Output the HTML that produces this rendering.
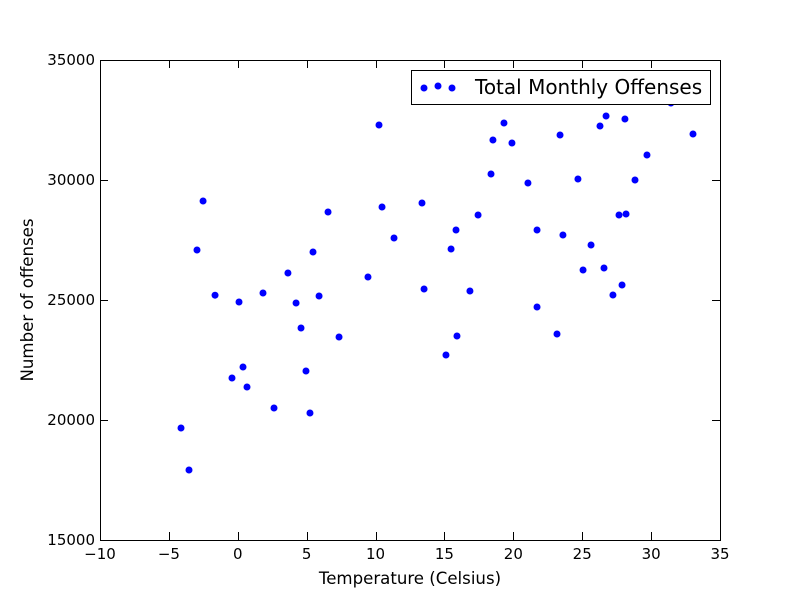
<!DOCTYPE html>
<html><head><meta charset="utf-8"><style>
body{margin:0;background:#fff}
svg text{font-family:"DejaVu Sans","Liberation Sans",sans-serif;fill:#000}
</style></head><body>
<svg id="chart" width="800" height="600" xmlns="http://www.w3.org/2000/svg">
<rect width="800" height="600" fill="#fff"/>
<g id="points"></g>
<g id="axes"></g>
<g>
<rect x="411.5" y="70.5" width="299" height="34" fill="#fff" stroke="#000" stroke-width="1"/>
<circle cx="424" cy="88" r="3.5" fill="#0000ff"/>
<circle cx="438" cy="86" r="3.5" fill="#0000ff"/>
<circle cx="452" cy="88" r="3.5" fill="#0000ff"/>
<text x="475" y="94" font-size="20">Total Monthly Offenses</text>
</g>
<text x="410" y="584" font-size="16.6" text-anchor="middle">Temperature (Celsius)</text>
<text transform="translate(33,300) rotate(-90)" font-size="16.6" text-anchor="middle">Number of offenses</text>
</svg>
<script>
const temps=[-4.12,-3.54,-2.96,-2.52,-1.65,-0.42,0.09,0.38,0.67,1.83,2.63,3.64,4.23,4.59,4.95,5.24,5.46,5.9,6.55,7.35,9.45,10.25,10.47,11.34,13.37,13.52,15.11,15.48,15.84,15.91,16.85,17.44,18.38,18.52,19.32,19.9,21.06,21.72,21.72,23.17,23.39,23.6,24.69,25.06,25.64,26.29,26.58,26.73,27.23,27.67,27.89,28.1,28.18,28.83,29.7,31.44,33.04];
const offenses=[19667,17917,27083,29125,25200,21750,24917,22208,21375,25292,20500,26125,24875,23833,22042,20292,27000,25167,28667,23458,25958,32292,28875,27583,29042,25458,22708,27125,27917,23500,25375,28542,30250,31667,32375,31542,29875,27917,24708,23583,31875,27708,30042,26250,27292,32250,26333,32667,25208,28542,25625,32542,28583,30000,31042,33208,31917];
const xTicks=[-10,-5,0,5,10,15,20,25,30,35];
const yTicks=[15000,20000,25000,30000,35000];
const L=100,R=720,T=60,B=540;
const xs=v=>L+(v+10)/45*(R-L);
const ys=v=>B-(v-15000)/20000*(B-T);
const NS="http://www.w3.org/2000/svg";
const pg=document.getElementById('points');
temps.forEach((t,i)=>{const c=document.createElementNS(NS,'circle');
c.setAttribute('cx',xs(t));c.setAttribute('cy',ys(offenses[i]));c.setAttribute('r',3.5);c.setAttribute('fill','#0000ff');


pg.appendChild(c);});
const ax=document.getElementById('axes');
let h='<rect x="100.5" y="60.5" width="620" height="480" fill="none" stroke="#000" stroke-width="1"/>';
xTicks.forEach(v=>{const x=Math.round(xs(v))+0.5;
h+=`<line x1="${x}" y1="540" x2="${x}" y2="532" stroke="#000"/><line x1="${x}" y1="60" x2="${x}" y2="68" stroke="#000"/>`;
h+=`<text x="${xs(v)}" y="559" font-size="15" text-anchor="middle">${String(v).replace('-','\u2212')}</text>`;});
yTicks.forEach(v=>{const y=Math.round(ys(v))+0.5;
h+=`<line x1="100" y1="${y}" x2="108" y2="${y}" stroke="#000"/><line x1="720" y1="${y}" x2="712" y2="${y}" stroke="#000"/>`;
h+=`<text x="95" y="${ys(v)+5}" font-size="15" text-anchor="end">${v}</text>`;});
ax.innerHTML=h;
</script>
</body></html>
